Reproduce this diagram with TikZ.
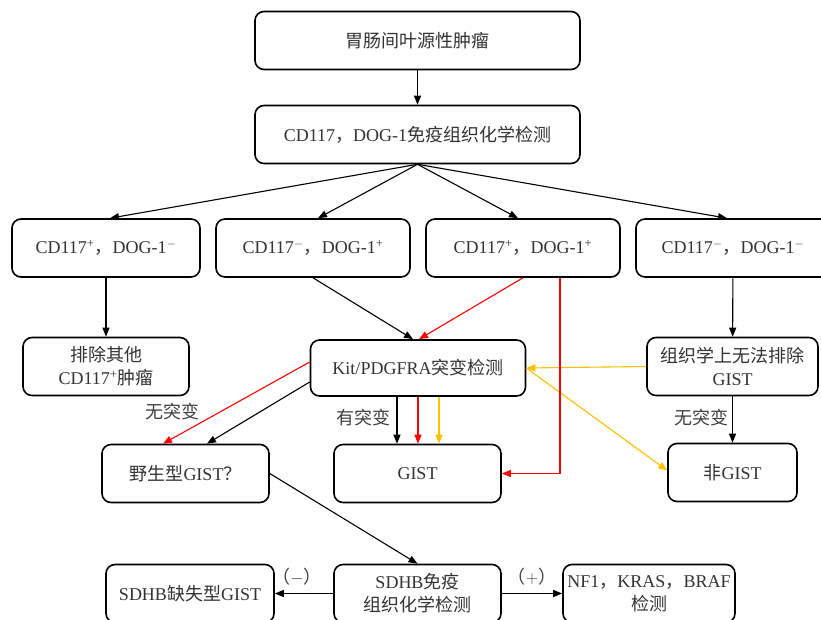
\documentclass[tikz,border=0pt]{standalone}
\usepackage{fontspec}
\setmainfont{Liberation Serif}
\newfontfamily\cjk{Noto Sans CJK SC}
\usetikzlibrary{arrows.meta}
\definecolor{myred}{RGB}{255,0,0}
\definecolor{myyellow}{RGB}{255,192,0}
\newcommand{\zh}[1]{{\cjk #1}}
\newcommand{\supp}{\textsuperscript{+}}
\newcommand{\supm}{\textsuperscript{$-$}}
\begin{document}
\begin{tikzpicture}[x=1pt,y=-1pt,
  box/.style={draw=black, line width=1.6pt, rounded corners=9pt, minimum width=#1,
    minimum height=58pt, inner sep=2pt, align=center,
    font=\fontsize{18}{23}\selectfont, text=black!80},
  box/.default=160pt,
  arr/.style={-{Triangle[length=9pt,width=7pt]}, line width=1.1pt},
  lab/.style={font=\fontsize{18}{23}\selectfont, text=black!75, inner sep=1pt}]
\useasboundingbox[fill=white] (0,0) rectangle (821,620);

\node[box=325pt] (n1) at (417.5,40.5) {\zh{胃肠间叶源性肿瘤}};
\node[box=325pt] (n2) at (417.5,134.5) {CD117\zh{，}DOG-1\zh{免疫组织化学检测}};
\node[box=188pt] (a) at (106,248) {CD117\supp\zh{，}DOG-1\supm};
\node[box=194pt] (b) at (313,248) {CD117\supm\zh{，}DOG-1\supp};
\node[box=194pt] (c) at (523,248) {CD117\supp\zh{，}DOG-1\supp};
\node[box=194pt] (d) at (733,248) {CD117\supm\zh{，}DOG-1\supm};
\node[box=166pt] (e) at (106,366.5) {\zh{排除其他}\\CD117\supp\zh{肿瘤}};
\node[box=215pt, minimum height=56pt] (f) at (418,368) {Kit/PDGFRA\zh{突变检测}};
\node[box=171pt] (g) at (732.5,366.5) {\zh{组织学上无法排除}\\GIST};
\node[box=167pt] (h) at (185.5,473.5) {\zh{野生型}GIST\zh{？}};
\node[box=167pt] (gist) at (417.5,473.5) {GIST};
\node[box=129pt] (ng) at (732.5,472.5) {\zh{非}GIST};
\node[box=167pt] (s) at (417.5,593.5) {SDHB\zh{免疫}\\\zh{组织化学检测}};
\node[box=168pt] (s2) at (190,593.5) {SDHB\zh{缺失型}GIST};
\node[box=172pt] (nf) at (649,593.5) {NF1\zh{，}KRAS\zh{，}BRAF\\\zh{检测}};

\draw[arr] (n1) -- (n2);
\draw[arr] (n2.south) -- ([xshift=4pt]a.north);
\draw[arr] (n2.south) -- ([xshift=5pt]b.north);
\draw[arr] (n2.south) -- ([xshift=-5pt]c.north);
\draw[arr] (n2.south) -- ([xshift=-6pt]d.north);
\draw[arr] (a) -- (e);
\draw[arr] (b.south) -- ([xshift=-5pt]f.north);
\draw[arr,myred] (c.south) -- ([xshift=1pt]f.north);
\draw[arr] (d) -- (g);
\draw[arr,myyellow] (g.west) -- (f.east);
\draw[arr,myyellow] (f.east) -- ([yshift=2pt]ng.west);
\draw[arr,myred] ([xshift=37pt]c.south) |- (gist.east);
\draw[arr,myred] ([yshift=6pt]f.west) -- ([xshift=-22.5pt]h.north);
\draw[arr] ([yshift=-14pt]f.west) -- ([xshift=21.5pt]h.north);
\draw[arr] ([xshift=-21pt]f.south) -- ([xshift=-20.5pt]gist.north);
\draw[arr,myred] (f.south) -- ([xshift=0.5pt]gist.north);
\draw[arr,myyellow] ([xshift=21pt]f.south) -- ([xshift=21.5pt]gist.north);
\draw[arr] (g) -- (ng);
\draw[arr] (h.east) -- (s.north);
\draw[arr] (s.west) -- (s2.east);
\draw[arr] (s.east) -- (nf.west);

\node[lab] (l1) at (172,412) {\zh{无突变}};
\node[lab] (l2) at (363,418) {\zh{有突变}};
\node[lab] (l3) at (701,418) {\zh{无突变}};
\node[lab] (l4) at (297,577) {\zh{（}$-$\zh{）}};
\node[lab] (l5) at (532,577) {\zh{（}$+$\zh{）}};
\end{tikzpicture}
\end{document}
